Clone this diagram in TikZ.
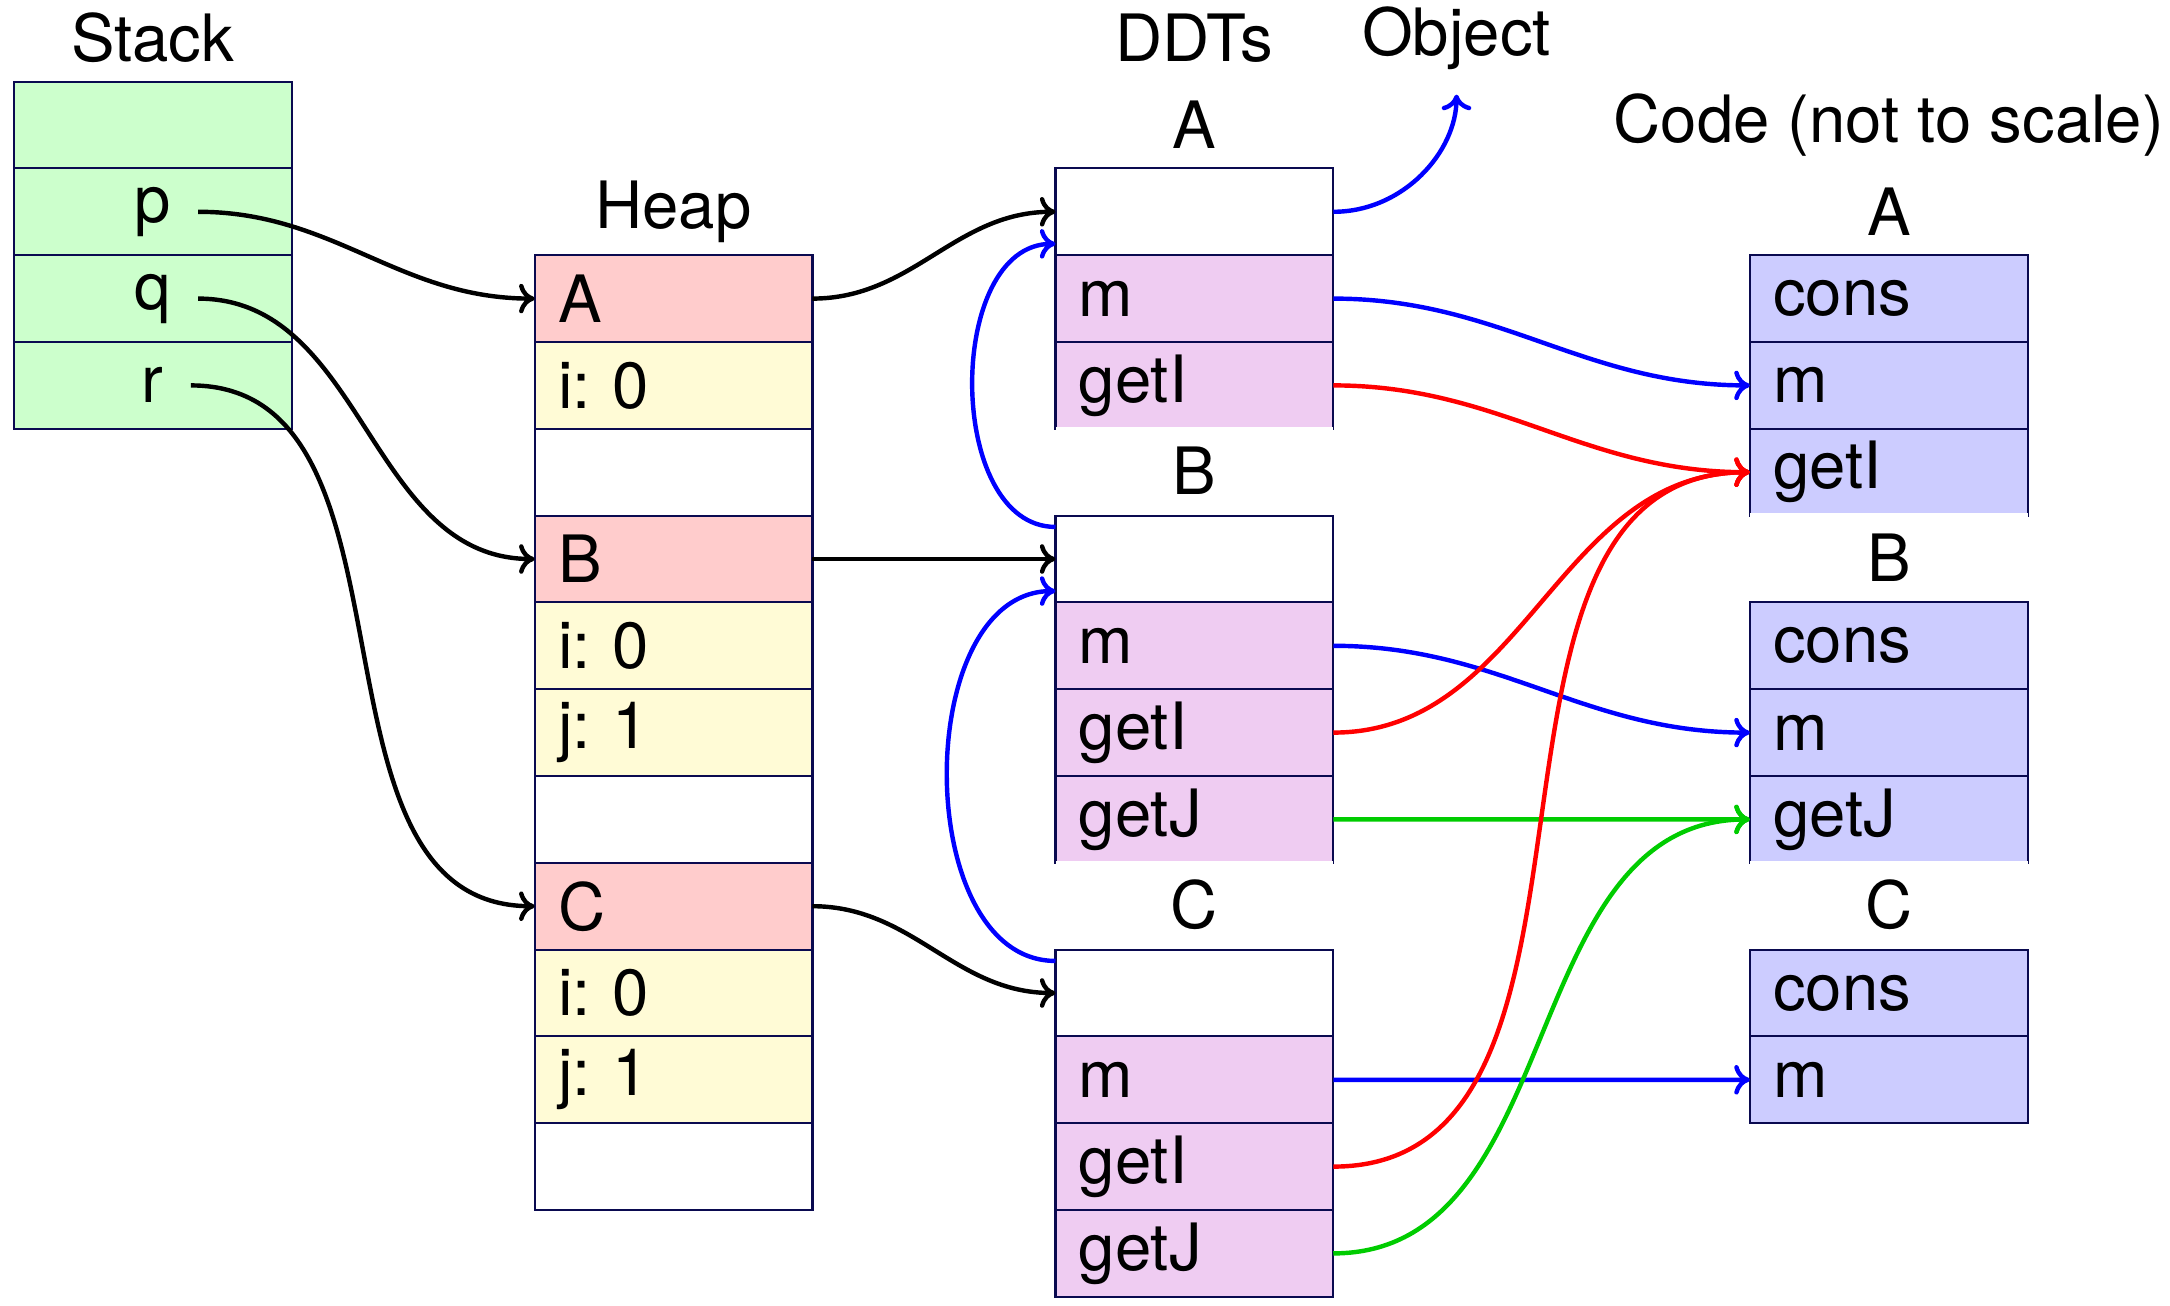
\documentclass[tikz,border=0pt]{standalone}
\usepackage{fontspec}
\setmainfont{TeX Gyre Heros}
\usetikzlibrary{positioning,arrows.meta}

\definecolor{cellline}{RGB}{10,10,80}
\definecolor{stackfill}{RGB}{204,255,204}
\definecolor{objfill}{RGB}{255,204,204}
\definecolor{fieldfill}{RGB}{255,251,214}
\definecolor{ddtfill}{RGB}{239,204,242}
\definecolor{codefill}{RGB}{204,204,255}
\definecolor{linkgreen}{RGB}{0,204,0}

\tikzset{every picture/.style={line width=0.75pt}}
\tikzset{
	cell/.style={draw=cellline, line width=0.7pt, inner xsep=0.27cm, inner ysep=0pt, outer sep=0pt,
		minimum height=1cm, text width=2.66cm, align=left},
	title/.style={minimum width=3.2cm, minimum height=1cm, inner sep=0pt, outer sep=0pt},
	lbl/.style={title, fill=white, minimum height=1cm+0.7pt},
	var/.style={inner xsep=0.3cm, inner ysep=0pt},
	link/.style={-{Computer Modern Rightarrow[length=1.8mm,width=3.4mm]}, line width=1.45pt},
}

\begin{document}
\frenchspacing
\begin{tikzpicture}[font=\fontsize{21.4}{25}\selectfont]
	\useasboundingbox (-0.16,0.94) rectangle (24.84,-14.095);
	
	%Shape: Stack
	\node[title] (lStack) at (1.6,0.5) {Stack};
	\node[cell, fill=stackfill, anchor=north west] (s0) at (0,0) {};
	\node[cell, fill=stackfill, below=0pt of s0] (sp) {};
	\node[cell, fill=stackfill, below=0pt of sp] (sq) {};
	\node[cell, fill=stackfill, below=0pt of sq] (sr) {};
	\node[var] (p) at (sp.center) {p};
	\node[var] (q) at (sq.center) {q};
	\node[var] (r) at (sr.center) {r};
	
	%Shape: Heap
	\node[title] (lHeap) at (7.6,-1.5) {Heap};
	\node[cell, fill=objfill, anchor=north west] (hA) at (6,-2) {A};
	\node[cell, fill=fieldfill, below=0pt of hA] (hAi) {i: 0};
	\node[cell, fill=white, below=0pt of hAi] (hAgap) {};
	\node[cell, fill=objfill, below=0pt of hAgap] (hB) {B};
	\node[cell, fill=fieldfill, below=0pt of hB] (hBi) {i: 0};
	\node[cell, fill=fieldfill, below=0pt of hBi] (hBj) {j: 1};
	\node[cell, fill=white, below=0pt of hBj] (hBgap) {};
	\node[cell, fill=objfill, below=0pt of hBgap] (hC) {C};
	\node[cell, fill=fieldfill, below=0pt of hC] (hCi) {i: 0};
	\node[cell, fill=fieldfill, below=0pt of hCi] (hCj) {j: 1};
	\node[cell, fill=white, below=0pt of hCj] (hCgap) {};
	
	%Shape: DDTs
	\node[title] (lDDTs) at (13.6,0.5) {DDTs};
	\node[title] (obj) at (16.62,0.5) {Object};
	\node[title] (ldA) at (13.6,-0.5) {A};
	\node[cell, fill=white, anchor=north west] (dA) at (12,-1) {};
	\node[cell, fill=ddtfill, below=0pt of dA] (dAm) {m};
	\node[cell, fill=ddtfill, below=0pt of dAm] (dAgetI) {getI};
	\node[lbl, below=-0.7pt of dAgetI] (ldB) {B};
	\node[cell, fill=white, below=0pt of ldB] (dB) {};
	\node[cell, fill=ddtfill, below=0pt of dB] (dBm) {m};
	\node[cell, fill=ddtfill, below=0pt of dBm] (dBgetI) {getI};
	\node[cell, fill=ddtfill, below=0pt of dBgetI] (dBgetJ) {getJ};
	\node[lbl, below=-0.7pt of dBgetJ] (ldC) {C};
	\node[cell, fill=white, below=0pt of ldC] (dC) {};
	\node[cell, fill=ddtfill, below=0pt of dC] (dCm) {m};
	\node[cell, fill=ddtfill, below=0pt of dCm] (dCgetI) {getI};
	\node[cell, fill=ddtfill, below=0pt of dCgetI] (dCgetJ) {getJ};
	
	%Shape: Code
	\node[title] (lCode) at (21.6,-0.5) {Code (not to scale)};
	\node[title] (lcA) at (21.6,-1.5) {A};
	\node[cell, fill=codefill, anchor=north west] (cAcons) at (20,-2) {cons};
	\node[cell, fill=codefill, below=0pt of cAcons] (cAm) {m};
	\node[cell, fill=codefill, below=0pt of cAm] (cAgetI) {getI};
	\node[lbl, below=-0.7pt of cAgetI] (lcB) {B};
	\node[cell, fill=codefill, below=0pt of lcB] (cBcons) {cons};
	\node[cell, fill=codefill, below=0pt of cBcons] (cBm) {m};
	\node[cell, fill=codefill, below=0pt of cBm] (cBgetJ) {getJ};
	\node[lbl, below=-0.7pt of cBgetJ] (lcC) {C};
	\node[cell, fill=codefill, below=0pt of lcC] (cCcons) {cons};
	\node[cell, fill=codefill, below=0pt of cCcons] (cCm) {m};
	
	%Curve Lines: stack to heap
	\draw[link] (p.east) to[out=0,in=180] (hA.west);
	\draw[link] (q.east) to[out=0,in=180] (hB.west);
	\draw[link] (r.east) to[out=0,in=180] (hC.west);
	%Curve Lines: heap to DDTs
	\draw[link] (hA.east) to[out=0,in=180] (dA.west);
	\draw[link] (hB.east) -- (dB.west);
	\draw[link] (hC.east) to[out=0,in=180] (dC.west);
	%Curve Lines: DDT parents
	\draw[link, blue] (dB.167) to[out=180,in=180] (dA.193);
	\draw[link, blue] (dC.167) to[out=180,in=180] (dB.193);
	\draw[link, blue, shorten >=0.15cm] (dA.east) to[out=0,in=-90] (obj.south);
	%Curve Lines: DDTs to code
	\draw[link, blue] (dAm.east) to[out=0,in=180] (cAm.west);
	\draw[link, red] (dAgetI.east) to[out=0,in=180] (cAgetI.west);
	\draw[link, blue] (dBm.east) to[out=0,in=180] (cBm.west);
	\draw[link, red] (dBgetI.east) to[out=0,in=180] (cAgetI.west);
	\draw[link, linkgreen] (dBgetJ.east) -- (cBgetJ.west);
	\draw[link, blue] (dCm.east) -- (cCm.west);
	\draw[link, red] (dCgetI.east) to[out=0,in=180] (cAgetI.west);
	\draw[link, linkgreen] (dCgetJ.east) to[out=0,in=180] (cBgetJ.west);
	
\end{tikzpicture}
\end{document}
